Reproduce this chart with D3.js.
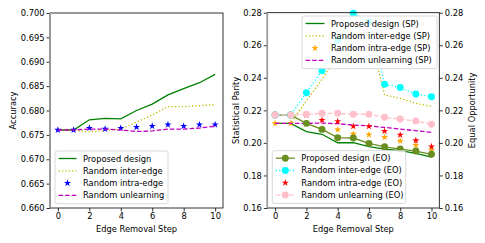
<!DOCTYPE html>
<html>
<head>
<meta charset="utf-8">
<script src="https://cdn.jsdelivr.net/npm/d3@7"></script>
<style>
  body { margin: 0; background: #fff; }
  svg { font-family: "DejaVu Sans", sans-serif; }
</style>
</head>
<body>
<svg id="chart" width="485" height="243"></svg>
<script>
var steps = [0, 1, 2, 3, 4, 5, 6, 7, 8, 9, 10]
var xTicks = [0, 2, 4, 6, 8, 10]

// left panel: accuracy
var accProposed = [0.676, 0.676, 0.6781, 0.6784, 0.6783, 0.680, 0.6813, 0.6832, 0.6845, 0.6857, 0.6874]
var accInter = [0.676, 0.676, 0.6756, 0.6759, 0.6762, 0.6776, 0.6791, 0.6808, 0.6808, 0.6810, 0.6812]
var accIntra = [0.676, 0.676, 0.6764, 0.6762, 0.6764, 0.6766, 0.6768, 0.6771, 0.6768, 0.6771, 0.6771]
var accUnlearn = [0.676, 0.676, 0.6762, 0.6762, 0.676, 0.6757, 0.6758, 0.6762, 0.6762, 0.6764, 0.6768]
var accTicks = [0.660, 0.665, 0.670, 0.675, 0.680, 0.685, 0.690, 0.695, 0.700]

// right panel: statistical parity (left axis)
var spProposed = [0.212, 0.212, 0.2069, 0.2053, 0.2001, 0.2001, 0.1977, 0.1962, 0.1952, 0.1936, 0.1913]
var spInter = [0.212, 0.212, 0.226, 0.239, 0.254, 0.267, 0.268, 0.2294, 0.2274, 0.2243, 0.2225]
var spIntra = [0.212, 0.212, 0.212, 0.209, 0.2081, 0.2055, 0.2050, 0.2035, 0.2012, 0.1986, 0.1954]
var spUnlearn = [0.212, 0.212, 0.212, 0.2122, 0.2118, 0.211, 0.2105, 0.2095, 0.2085, 0.2075, 0.2065]
// right panel: equal opportunity (right axis)
var eoProposed = [0.2171, 0.2171, 0.212, 0.2083, 0.2032, 0.2030, 0.1997, 0.1976, 0.1962, 0.1950, 0.1930]
var eoInter = [0.2171, 0.2171, 0.2308, 0.2444, 0.263, 0.2796, 0.2743, 0.236, 0.2341, 0.230, 0.2284]
var eoIntra = [0.2171, 0.2171, 0.2171, 0.2140, 0.2132, 0.2102, 0.2102, 0.2072, 0.2049, 0.2015, 0.1977]
var eoUnlearn = [0.2171, 0.2171, 0.2176, 0.2182, 0.2182, 0.2176, 0.2176, 0.2157, 0.2147, 0.2134, 0.2114]
var fairTicks = [0.16, 0.18, 0.20, 0.22, 0.24, 0.26, 0.28]

var svg = d3.select("#chart")
var fs = 8.3
var starSize = 16, dotSize = 38

function drawFrame(x, y, yFmt, label, labelOff) {
  var g = svg.append("g")
  var x0 = x.range()[0], x1 = x.range()[1]
  var y0 = y.range()[0], y1 = y.range()[1]
  var ax = d3.axisBottom(x).tickValues(xTicks).tickSize(3.5).tickPadding(2).tickFormat(d3.format("d"))
  g.append("g").attr("transform", "translate(0," + y0 + ")").call(ax)
  var ay = d3.axisLeft(y).tickValues(y.ticksList).tickSize(3.5).tickPadding(2).tickFormat(d3.format(yFmt))
  g.append("g").attr("transform", "translate(" + x0 + ",0)").call(ay)
  g.selectAll(".domain").remove()
  g.selectAll(".tick text").attr("font-size", fs).attr("fill", "#000").attr("font-family", "DejaVu Sans")
  g.selectAll(".tick line").attr("stroke", "#000").attr("stroke-width", 0.8)
  g.append("text").attr("x", (x0 + x1) / 2).attr("y", 231.5).attr("text-anchor", "middle")
    .attr("font-size", fs).text("Edge Removal Step")
  g.append("text").attr("transform", "translate(" + (x0 - labelOff) + "," + ((y0 + y1) / 2) + ") rotate(-90)")
    .attr("text-anchor", "middle").attr("font-size", fs).text(label)
  return g
}

function spines(x, y) {
  var x0 = x.range()[0], x1 = x.range()[1]
  var y0 = y.range()[0], y1 = y.range()[1]
  svg.append("rect").attr("x", x0).attr("y", y1).attr("width", x1 - x0).attr("height", y0 - y1)
    .attr("fill", "none").attr("stroke", "#000").attr("stroke-width", 0.8)
  svg.append("line").attr("x1", x0).attr("x2", x0).attr("y1", y1).attr("y2", y0)
    .attr("stroke", "#999").attr("stroke-width", 1.6)
}

function drawLine(g, x, y, vals, color, dash, width) {
  var line = d3.line().x(function(d, i) { return x(steps[i]) }).y(function(d) { return y(d) })
  g.append("path").datum(vals).attr("d", line).attr("fill", "none")
    .attr("stroke", color).attr("stroke-width", width || 1.3)
    .attr("stroke-dasharray", dash || null)
}

function drawMarks(g, x, y, vals, color, type, size) {
  var sym = d3.symbol().type(type).size(size)
  g.selectAll(null).data(vals).enter().append("path")
    .attr("d", sym)
    .attr("transform", function(d, i) { return "translate(" + x(steps[i]) + "," + y(d) + ")" })
    .attr("fill", color)
}

var dashed = "4.6,2"
var dotted = "1.3,2.1"

// ---------- left panel ----------
var xL = d3.scaleLinear().domain([-0.5, 10.5]).range([50, 223])
var yL = d3.scaleLinear().domain([0.66, 0.70]).range([208, 13])
yL.ticksList = accTicks
drawFrame(xL, yL, ".3f", "Accuracy", 34.5)
var gL = svg.append("g")
drawLine(gL, xL, yL, accProposed, "#008000")
drawLine(gL, xL, yL, accInter, "#bfbf00", dotted)
drawMarks(gL, xL, yL, accIntra, "#0000ff", d3.symbolStar, starSize)
drawLine(gL, xL, yL, accUnlearn, "#bf00bf", dashed)
spines(xL, yL)

// ---------- right panel ----------
var xR = d3.scaleLinear().domain([-0.5, 10.5]).range([267.3, 439.3])
var yR = d3.scaleLinear().domain([0.16, 0.28]).range([208, 12.7])
yR.ticksList = fairTicks
drawFrame(xR, yR, ".2f", "Statistical Parity", 28.5)
var ayR = d3.axisRight(yR).tickValues(fairTicks).tickSize(3.5).tickPadding(2).tickFormat(d3.format(".2f"))
var gAx = svg.append("g").attr("transform", "translate(439.3,0)").call(ayR)
gAx.select(".domain").remove()
gAx.selectAll(".tick text").attr("font-size", fs).attr("fill", "#000").attr("font-family", "DejaVu Sans")
gAx.selectAll(".tick line").attr("stroke", "#000").attr("stroke-width", 0.8)
svg.append("text").attr("transform", "translate(475," + ((208 + 12.7) / 2) + ") rotate(-90)")
  .attr("text-anchor", "middle").attr("font-size", fs).text("Equal Opportunity")

var gR = svg.append("g")
drawLine(gR, xR, yR, spProposed, "#008000")
drawLine(gR, xR, yR, spInter, "#bfbf00", dotted)
drawMarks(gR, xR, yR, spIntra, "#ffa500", d3.symbolStar, starSize)
drawLine(gR, xR, yR, spUnlearn, "#bf00bf", dashed)

drawLine(gR, xR, yR, eoProposed, "#6b8e23")
drawMarks(gR, xR, yR, eoProposed, "#6b8e23", d3.symbolCircle, dotSize)
drawLine(gR, xR, yR, eoInter, "#00ffff", dotted)
drawMarks(gR, xR, yR, eoInter, "#00ffff", d3.symbolCircle, dotSize)
drawMarks(gR, xR, yR, eoIntra, "#ff0000", d3.symbolStar, starSize)
drawLine(gR, xR, yR, eoUnlearn, "#ffc0cb", dashed)
drawMarks(gR, xR, yR, eoUnlearn, "#ffc0cb", d3.symbolCircle, dotSize)
spines(xR, yR)

// ---------- legends ----------
function legend(x, y, w, items, hw) {
  var g = svg.append("g").attr("transform", "translate(" + x + "," + y + ")")
  g.append("rect").attr("width", w).attr("height", items.length * 12.3 + 3.5).attr("rx", 2)
    .attr("fill", "#fff").attr("fill-opacity", 0.8).attr("stroke", "#d0d0d0").attr("stroke-width", 0.8)
  items.forEach(function(it, i) {
    var cy = 7.5 + i * 12.3
    if (it.line) {
      g.append("line").attr("x1", 3.5).attr("x2", 3.5 + hw).attr("y1", cy).attr("y2", cy)
        .attr("stroke", it.color).attr("stroke-width", 1.3).attr("stroke-dasharray", it.dash || null)
    }
    if (it.marker) {
      g.append("path").attr("d", d3.symbol().type(it.marker).size(it.marker === d3.symbolStar ? starSize : dotSize))
        .attr("transform", "translate(" + (3.5 + hw / 2) + "," + cy + ")").attr("fill", it.color)
    }
    g.append("text").attr("x", hw + 10).attr("y", cy + 3).attr("font-size", fs).text(it.label)
  })
}

legend(55, 151, 113, [
  { label: "Proposed design", color: "#008000", line: true },
  { label: "Random inter-edge", color: "#bfbf00", line: true, dash: dotted },
  { label: "Random intra-edge", color: "#0000ff", marker: d3.symbolStar },
  { label: "Random unlearning", color: "#bf00bf", line: true, dash: dashed }
], 18)

legend(302, 16, 135, [
  { label: "Proposed design (SP)", color: "#008000", line: true },
  { label: "Random inter-edge (SP)", color: "#bfbf00", line: true, dash: dotted },
  { label: "Random intra-edge (SP)", color: "#ffa500", marker: d3.symbolStar },
  { label: "Random unlearning (SP)", color: "#bf00bf", line: true, dash: dashed }
], 19)

legend(272.3, 150.7, 133.4, [
  { label: "Proposed design (EO)", color: "#6b8e23", line: true, marker: d3.symbolCircle },
  { label: "Random inter-edge (EO)", color: "#00ffff", line: true, dash: dotted, marker: d3.symbolCircle },
  { label: "Random intra-edge (EO)", color: "#ff0000", marker: d3.symbolStar },
  { label: "Random unlearning (EO)", color: "#ffc0cb", line: true, dash: dashed, marker: d3.symbolCircle }
], 19)
</script>
</body>
</html>
